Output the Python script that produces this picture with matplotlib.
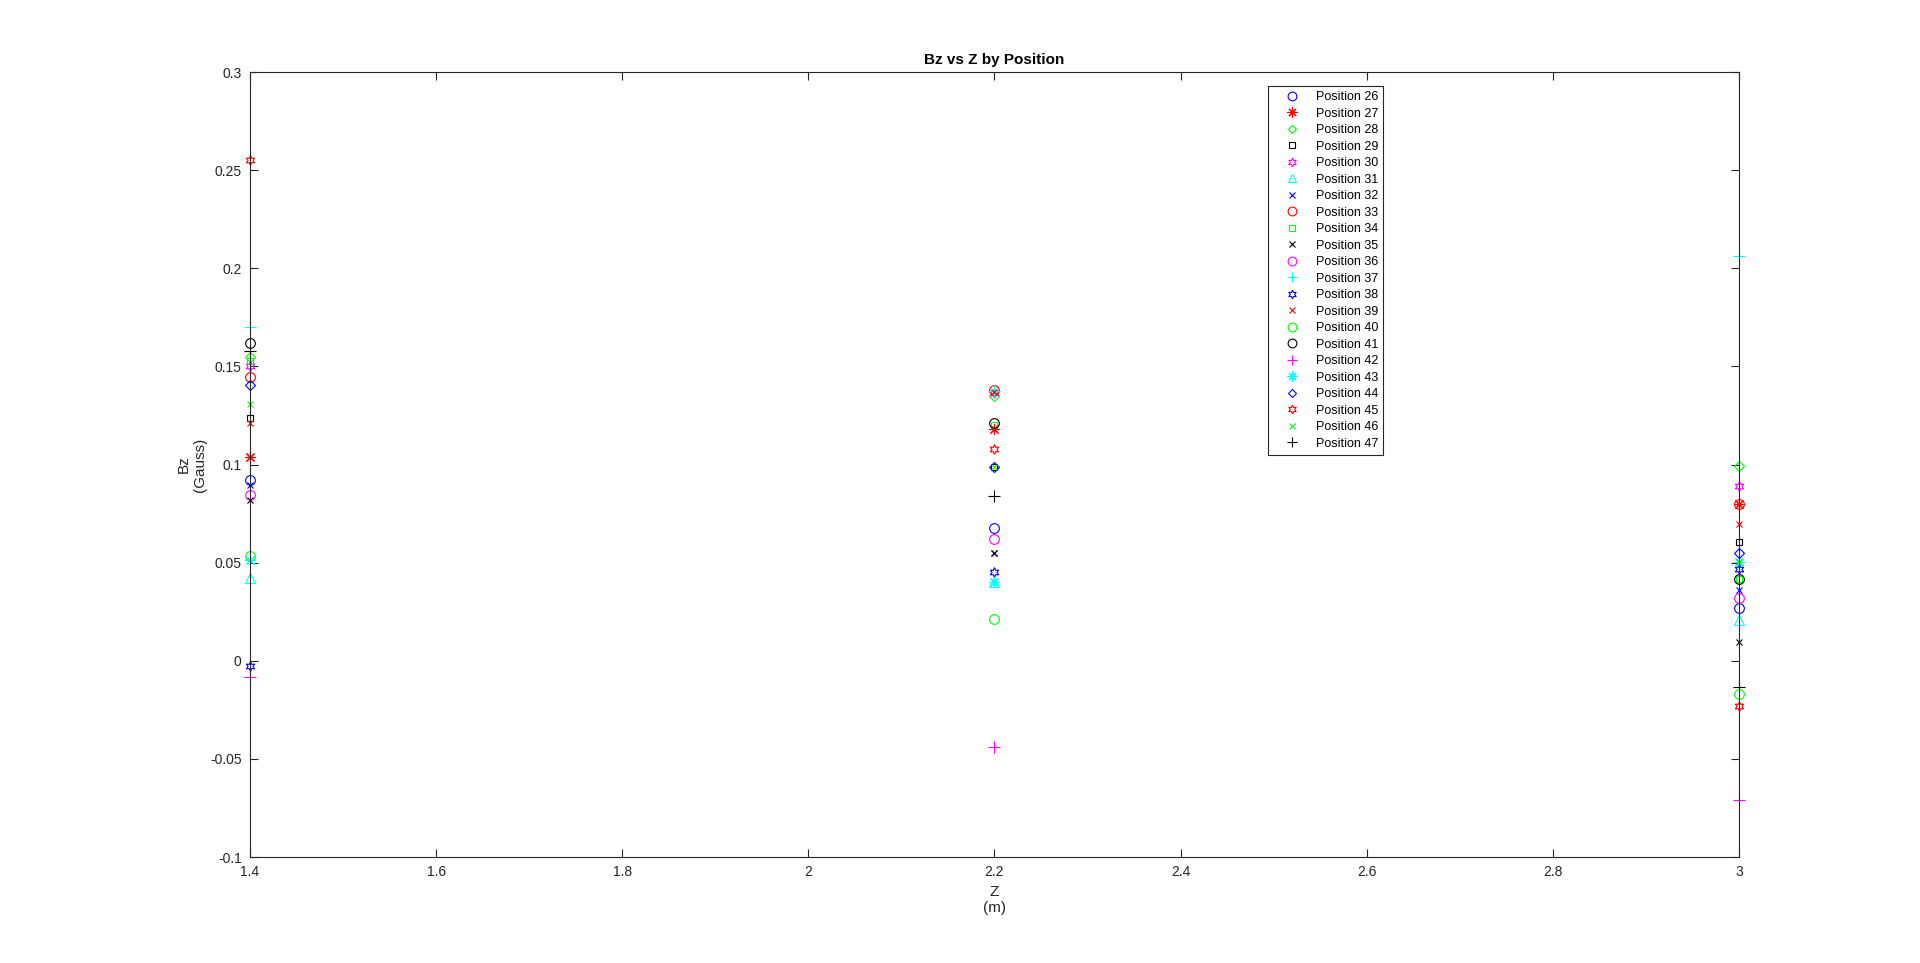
import matplotlib.pyplot as plt
from matplotlib.ticker import FuncFormatter

plt.rcParams['font.family'] = ['Liberation Sans', 'DejaVu Sans']

z = [1.4, 2.2, 3.0]
positions = list(range(26, 48))
# Bz values at each Z, one list per position
bz = {
    26: [0.0919, 0.0679, 0.0270],
    27: [0.1040, 0.1183, 0.0800],
    28: [0.1550, 0.1350, 0.0993],
    29: [0.1238, 0.0987, 0.0605],
    30: [0.1500, 0.1364, 0.0889],
    31: [0.0420, 0.0403, 0.0207],
    32: [0.0898, 0.0550, 0.0360],
    33: [0.1446, 0.1381, 0.0800],
    34: [0.1526, 0.1200, 0.0416],
    35: [0.0817, 0.0550, 0.0095],
    36: [0.0847, 0.0623, 0.0318],
    37: [0.1703, 0.1374, 0.2065],
    38: [-0.0027, 0.0453, 0.0466],
    39: [0.1210, 0.1370, 0.0695],
    40: [0.0532, 0.0211, -0.0170],
    41: [0.1619, 0.1213, 0.0416],
    42: [-0.0085, -0.0441, -0.0709],
    43: [0.0515, 0.0403, 0.0505],
    44: [0.1403, 0.0987, 0.0551],
    45: [0.2554, 0.1081, -0.0230],
    46: [0.1310, 0.0987, 0.0505],
    47: [0.1580, 0.0840, -0.0135],
}
colors = ['#0000ff', '#ff0000', '#00ff00', '#000000', '#ff00ff', '#00ffff']
hexagram = (6, 1, 0)
asterisk = (8, 2, 0)
markers = ['o', asterisk, 'D', 's', hexagram, '^', 'x', 'o', 's', 'x', 'o',
           '+', hexagram, 'x', 'o', 'o', '+', asterisk, 'D', hexagram, 'x', '+']
sizes = {'o': 7, 'D': 5, 's': 5, '^': 7, 'x': 5, '+': 8}

fig = plt.figure(figsize=(19.2, 9.63), dpi=100)
ax = fig.add_axes([0.1302, 0.110, 0.7755, 0.8152])

for i, p in enumerate(positions):
    m = markers[i]
    ms = sizes.get(m, 6) if isinstance(m, str) else (7 if m == hexagram else 8)
    ax.plot(z, bz[p], linestyle='none', marker=m, color=colors[i % 6],
            mfc='none', ms=ms, mew=0.8, label=f'Position {p}', clip_on=False)

ax.set_xlim(1.4, 3.0)
ax.set_ylim(-0.1, 0.3)
ax.set_xticks([1.4, 1.6, 1.8, 2.0, 2.2, 2.4, 2.6, 2.8, 3.0])
ax.set_yticks([-0.1, -0.05, 0, 0.05, 0.1, 0.15, 0.2, 0.25, 0.3])
ax.xaxis.set_major_formatter(FuncFormatter(lambda v, _: f'{v:g}'))
ax.yaxis.set_major_formatter(FuncFormatter(lambda v, _: f'{round(v, 3):g}'))
ax.tick_params(direction='in', top=True, right=True, length=6, width=0.8,
               labelsize=10, colors='#262626', pad=6)
for s in ax.spines.values():
    s.set_color('#262626')
    s.set_linewidth(0.8)

ax.set_title('Bz vs Z by Position', fontsize=11, fontweight='bold')
ax.set_xlabel('Z\n(m)', fontsize=11, color='#262626')
ax.set_ylabel('Bz\n(Gauss)', fontsize=11, color='#262626', labelpad=2)

leg = ax.legend(loc='upper left', bbox_to_anchor=(0.6795, 0.99), fontsize=9,
                labelspacing=0.36, handletextpad=0.35, borderpad=0.4,
                fancybox=False, framealpha=1, edgecolor='#262626',
                handlelength=3.1, markerscale=0.9)
leg.get_frame().set_linewidth(0.8)

fig.savefig('out.png', dpi=100)
